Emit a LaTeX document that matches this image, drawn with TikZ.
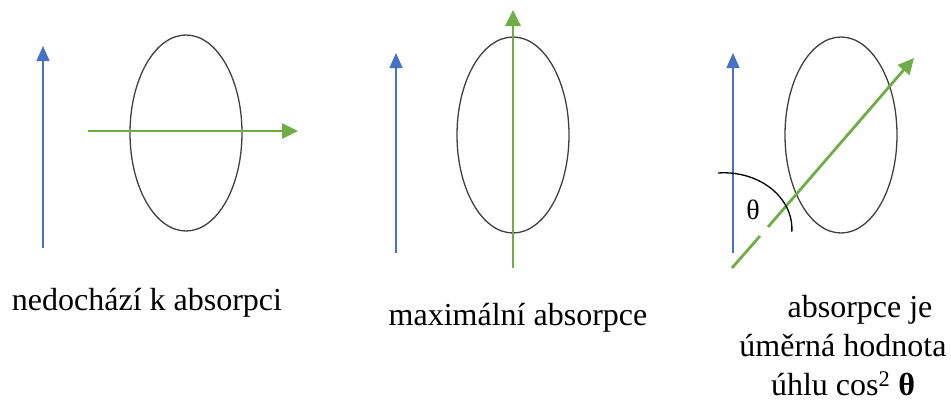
\documentclass[tikz,border=0pt]{standalone}
\usepackage{fontspec}
\setmainfont{Liberation Serif}
\usetikzlibrary{arrows.meta,positioning,shapes.geometric}
\definecolor{lightblue}{RGB}{68,114,196}
\definecolor{lightgreen}{RGB}{112,173,71}

\begin{document}
\begin{tikzpicture}[
  x=1pt, y=-1pt,
  lens/.style={ellipse, draw=black!75, line width=1.3pt,
    minimum width=112pt, minimum height=196pt, inner sep=0pt},
  field/.style={-{Triangle[length=15pt, width=13pt]}, line width=1.5pt,
    color=lightblue},
  light/.style={-{Triangle[length=16pt, width=15pt]}, line width=2.8pt,
    color=lightgreen},
  caption/.style={font=\fontsize{32}{39}\selectfont, align=center}
]
\useasboundingbox (0,0) rectangle (951,405);

% Panel 1
\node[lens] (lensA) at (186,133) {};
\coordinate (fieldAs) at (43,248);
\coordinate (fieldAe) at (43,46);
\coordinate (lightAs) at (88,131);
\coordinate (lightAe) at (298,131);
\draw[field] (fieldAs) -- (fieldAe);
\draw[light] (lightAs) -- (lightAe);
\node[caption] (capA) at (147,303) {nedochází k absorpci};

% Panel 2
\node[lens] (lensB) at (513,135) {};
\coordinate (fieldBs) at (396,253);
\coordinate (fieldBe) at (396,53);
\coordinate (lightBs) at (513,268);
\coordinate (lightBe) at (513,10);
\draw[field] (fieldBs) -- (fieldBe);
\draw[light] (lightBs) -- (lightBe);
\node[caption] (capB) at (518,318) {maximální absorpce};

% Panel 3
\node[lens] (lensC) at (841,135) {};
\coordinate (fieldCs) at (733,253);
\coordinate (fieldCe) at (733,53);
\coordinate (lightCs) at (732,268);
\coordinate (lightCg) at (760,236);
\coordinate (lightCh) at (768,227);
\coordinate (lightCe) at (914,58);
\draw[field] (fieldCs) -- (fieldCe);
\draw[lightgreen, line width=2.8pt] (lightCs) -- (lightCg);
\draw[light] (lightCh) -- (lightCe);
\draw[black, line width=1.3pt] (718,173) arc[start angle=95, end angle=-3,
  x radius=68pt, y radius=56pt];
\node[font=\fontsize{28}{34}\selectfont] (theta) at (753,210) {θ};
\node[caption] (capC) at (843,346)
  {\hspace*{34pt}absorpce je\\úměrná hodnota\\úhlu cos\textsuperscript{2} \textbf{θ}};
\end{tikzpicture}
\end{document}
